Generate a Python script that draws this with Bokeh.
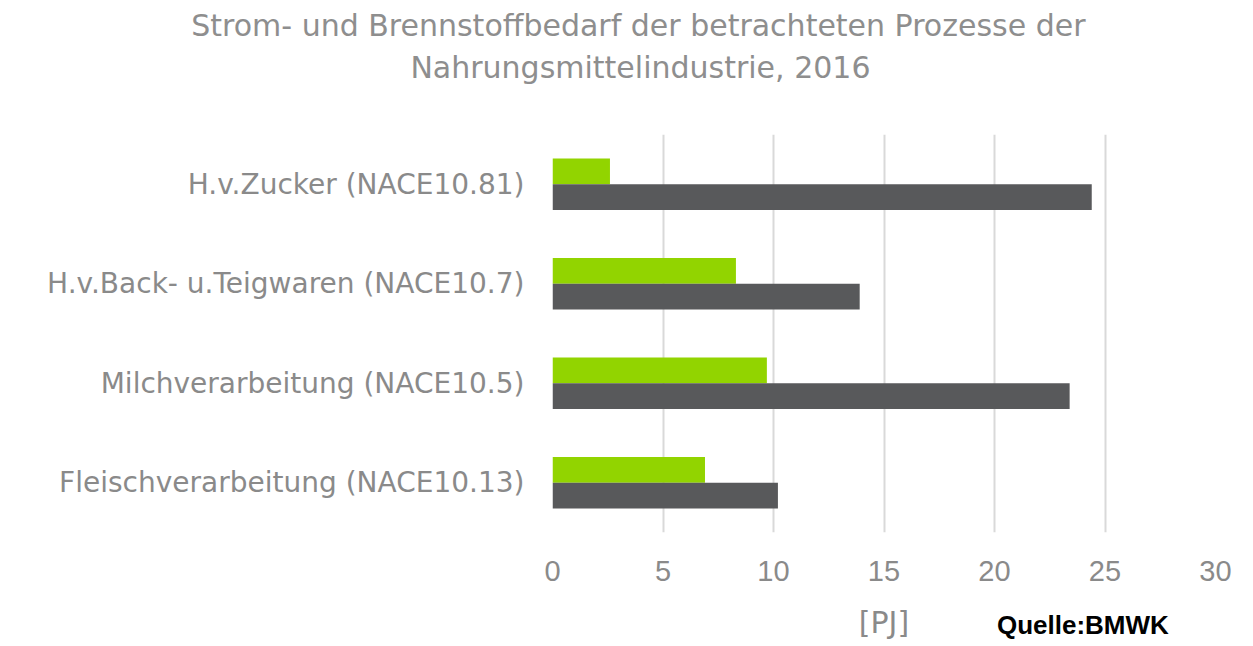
from bokeh.plotting import figure
from bokeh.models import FactorRange, Range1d, Label, FixedTicker, ColumnDataSource, Title
from bokeh.layouts import column
from bokeh.transform import dodge
from bokeh.embed import file_html
from bokeh.resources import INLINE

categories = ["H.v.Zucker (NACE10.81)", "H.v.Back- u.Teigwaren (NACE10.7)",
              "Milchverarbeitung (NACE10.5)", "Fleischverarbeitung (NACE10.13)"]
strom = [2.6, 8.3, 9.7, 6.9]
brennstoff = [24.4, 13.9, 23.4, 10.2]
x_ticks = [0, 5, 10, 15, 20, 25, 30]
title_lines = ["Strom- und Brennstoffbedarf der betrachteten Prozesse der",
               "Nahrungsmittelindustrie, 2016"]
x_label = "[PJ]"
source_note = "Quelle:BMWK"

FONT = "Liberation Sans"
WFONT = "DejaVu Sans"
GRAY_TXT = "#8a8a8a"
W = 1253

# --- main chart ---
src = ColumnDataSource(dict(cat=categories, strom=strom, brennstoff=brennstoff))
x_range = Range1d(0, 30)
p = figure(width=W, height=600, output_backend="svg", toolbar_location=None,
           y_range=FactorRange(*categories[::-1]), x_range=x_range,
           min_border_left=552, min_border_right=38, min_border_top=132,
           min_border_bottom=68)
p.outline_line_color = None

p.hbar(y=dodge("cat", 0.13, range=p.y_range), right="strom", left=0, height=0.26,
       source=src, color="#92D400", line_color=None)
p.hbar(y=dodge("cat", -0.13, range=p.y_range), right="brennstoff", left=0, height=0.26,
       source=src, color="#58595B", line_color=None)

p.xgrid.ticker = FixedTicker(ticks=x_ticks)
p.xgrid.grid_line_color = "#d9d9d9"
p.xgrid.grid_line_width = 2
p.ygrid.grid_line_color = None

p.xaxis.ticker = FixedTicker(ticks=x_ticks)
p.xaxis.axis_line_color = None
p.xaxis.major_tick_line_color = None
p.xaxis.minor_tick_line_color = None
p.xaxis.major_label_text_font = FONT
p.xaxis.major_label_text_font_size = "29px"
p.xaxis.major_label_text_color = GRAY_TXT
p.xaxis.major_label_standoff = 22

p.yaxis.axis_line_color = None
p.yaxis.major_tick_line_color = None
p.yaxis.minor_tick_line_color = None
p.yaxis.major_label_text_font = WFONT
p.yaxis.major_label_text_font_size = "28px"
p.yaxis.major_label_text_color = GRAY_TXT
p.yaxis.major_label_standoff = 22

# spacer between frame and title, then the two title lines (inner to outer)
p.add_layout(Title(text=" ", standoff=47, text_font_size="1px"), "above")
for txt, off, stand in [(title_lines[1], 345, 0), (title_lines[0], 130, 10)]:
    p.add_layout(Title(text=txt, align="right", offset=off, standoff=stand,
                       text_font=WFONT, text_font_size="30px",
                       text_font_style="normal", text_color="#8e8e8e"), "above")

# --- bottom strip: axis unit and source ---
b = figure(width=W, height=46, output_backend="svg", toolbar_location=None,
           x_range=x_range, y_range=Range1d(0, 46),
           x_axis_location=None, y_axis_location=None,
           min_border_left=552, min_border_right=38, min_border_top=0,
           min_border_bottom=0)
b.outline_line_color = None
b.xgrid.visible = False
b.ygrid.visible = False
b.add_layout(Label(x=15, y=24, text=x_label, text_align="center",
                   text_baseline="alphabetic", text_font=WFONT,
                   text_font_size="30px", text_color=GRAY_TXT))
b.add_layout(Label(x=24.0, y=22, text=source_note, text_align="center",
                   text_baseline="alphabetic", text_font=FONT, text_font_style="bold",
                   text_font_size="26px", text_color="black"))

layout = column(p, b, spacing=0)
open("out.html", "w").write(file_html(layout, INLINE))
